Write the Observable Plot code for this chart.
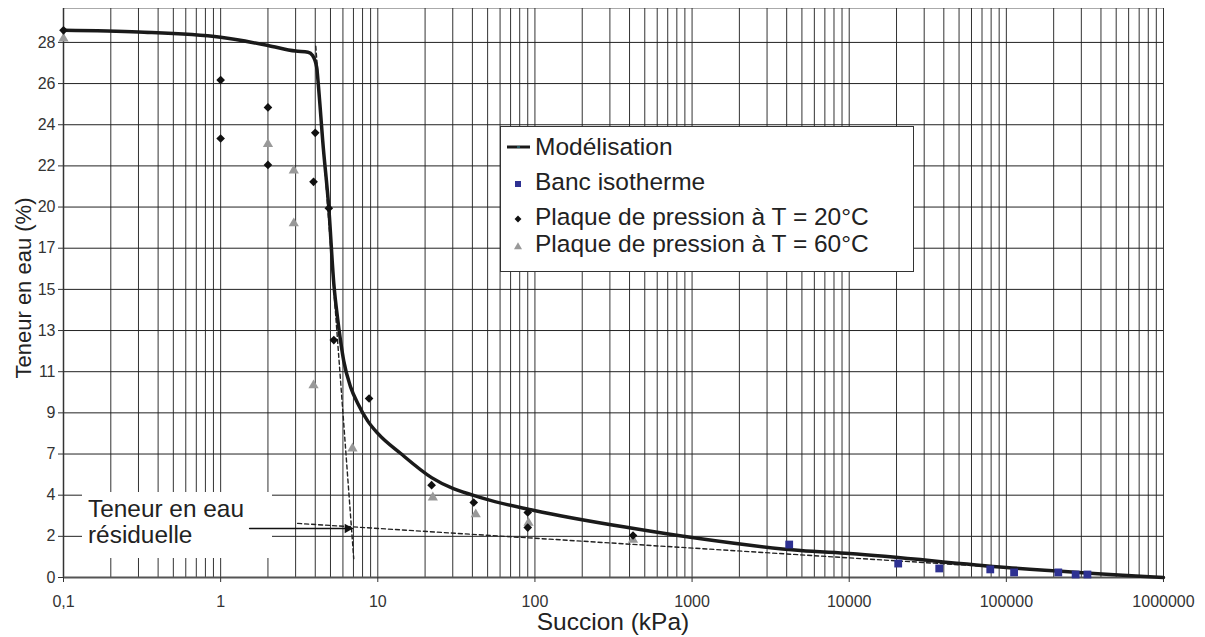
<!DOCTYPE html>
<html><head><meta charset="utf-8">
<script src="https://cdn.jsdelivr.net/npm/d3@7"></script>
<script src="https://cdn.jsdelivr.net/npm/@observablehq/plot@0.6"></script>
<style>
body{margin:0;background:#fff;font-family:"Liberation Sans",Arial,Helvetica,sans-serif;}
#chart{width:1205px;height:637px;}
</style></head><body><div id="chart"></div>
<script>
// ---- data ----
const modelX = [0.1, 0.3, 1, 2, 3, 3.6, 3.85, 4.08, 4.2, 4.33, 4.46, 4.88, 5.25, 5.56, 5.81, 6.07, 6.73, 7.46, 8.64, 10, 14, 22, 47, 99, 427, 1000, 4900, 10000, 100000, 1000000];
const modelY = [29.04, 28.95, 28.67, 28.24, 27.94, 27.88, 27.7, 27.1, 26.0, 24.6, 23.2, 19.6, 15.6, 13.7, 12.5, 11.5, 10.09, 9.24, 8.3, 7.65, 6.58, 5.3, 4.2, 3.56, 2.6, 2.12, 1.43, 1.27, 0.53, 0];

const bancX = [4150, 20500, 37400, 79000, 112000, 214000, 276000, 328000];
const bancY = [1.75, 0.74, 0.48, 0.43, 0.27, 0.27, 0.16, 0.16];

const plate20X = [0.1, 1, 1, 2, 2, 4.0, 3.9, 4.88, 5.25, 8.8, 22, 40.8, 90, 90, 421];
const plate20Y = [29.04, 26.4, 23.3, 24.95, 21.9, 23.6, 21.0, 19.6, 12.6, 9.5, 4.9, 3.98, 3.45, 2.65, 2.23];

const plate60X = [0.1, 2, 2.92, 2.92, 3.9, 6.9, 22.4, 42, 91, 421];
const plate60Y = [28.6, 23.0, 21.6, 18.8, 10.2, 6.85, 4.25, 3.35, 2.9, 2.0];

const tangentX = [4.03, 7.03];
const tangentY = [28.2, 1.0];
const residualX = [3.09, 1000000];
const residualY = [2.87, 0];
const arrowX = [1.53, 6.9];
const arrowY = [2.6, 2.6];

const xTicks = [0.1, 1, 10, 100, 1000, 10000, 100000, 1000000];
const xTickLabels = ["0,1", "1", "10", "100", "1000", "10000", "100000", "1000000"];
const yTicks = d3.range(14).map(i => i * 2.1846);
const yMax = 30.2;

const legendLabels = ["Modélisation", "Banc isotherme", "Plaque de pression à T = 20°C", "Plaque de pression à T = 60°C"];
const annotationLines = ["Teneur en eau", "résiduelle"];
const xTitle = "Succion (kPa)";
const yTitle = "Teneur en eau (%)";

// ---- derived tables ----
const zip = (xs, ys) => xs.map((x, i) => ({x, y: ys[i]}));
const model = zip(modelX, modelY);
const banc = zip(bancX, bancY);
const p20 = zip(plate20X, plate20Y);
const p60 = zip(plate60X, plate60Y);
const tangent = zip(tangentX, tangentY);
const residual = zip(residualX, residualY);
const arrow = zip(arrowX, arrowY);
const xMinor = [];
for (let e = -1; e < 6; e++) for (let k = 1; k <= 9; k++) xMinor.push(k * Math.pow(10, e));
xMinor.push(1000000);

const FONT = '"Liberation Sans", Arial, Helvetica, sans-serif';

// annotation box (custom render mark)
function annotationMark(index, scales, values, dims) {
  const g = d3.create("svg:g").attr("text-anchor", "start");
  g.append("rect").attr("x", 82).attr("y", 492).attr("width", 190).attr("height", 66).attr("fill", "#fff");
  annotationLines.forEach((t, i) => {
    g.append("text").attr("x", 88).attr("y", 517 + i * 26).attr("font-size", 24.4)
      .attr("text-anchor", "start").attr("font-family", FONT).attr("fill", "#222").text(t);
  });
  return g.node();
}

function legendMark(index, scales, values, dims) {
  const g = d3.create("svg:g").attr("text-anchor", "start");
  g.append("rect").attr("x", 500.5).attr("y", 126.5).attr("width", 413).attr("height", 145)
    .attr("fill", "#fff").attr("stroke", "#333").attr("stroke-width", 1);
  const rows = [147, 184, 219, 247];
  const base = [155, 190, 225, 252];
  g.append("line").attr("x1", 507).attr("x2", 530).attr("y1", rows[0]).attr("y2", rows[0])
    .attr("stroke", "#1a1a1a").attr("stroke-width", 3);
  g.append("rect").attr("x", 517).attr("y", rows[0] - 0.5).attr("width", 3).attr("height", 1).attr("fill", "#39a");
  g.append("rect").attr("x", 515).attr("y", rows[1] - 3).attr("width", 6).attr("height", 6).attr("fill", "#2e3192");
  g.append("path").attr("d", d3.symbol(d3.symbolDiamond2, 30)()).attr("transform", `translate(518,${rows[2]})`).attr("fill", "#111");
  g.append("path").attr("d", d3.symbol(d3.symbolTriangle, 28)()).attr("transform", `translate(518,${rows[3]})`).attr("fill", "#999");
  legendLabels.forEach((t, i) => {
    g.append("text").attr("x", 535).attr("y", base[i]).attr("font-size", 24.5)
      .attr("text-anchor", "start").attr("font-family", FONT).attr("fill", "#222").text(t);
  });
  return g.node();
}

const plot = Plot.plot({
  width: 1205, height: 637,
  marginLeft: 63, marginRight: 42, marginTop: 8, marginBottom: 60,
  style: {fontFamily: FONT, fontSize: "16px", color: "#333", background: "#fff"},
  x: {type: "log", domain: [0.1, 1000000]},
  y: {domain: [0, yMax]},
  marks: [
    Plot.frame({stroke: "#aaa"}),
    Plot.ruleX(xMinor, {stroke: "#333", strokeWidth: 1}),
    Plot.ruleY(yTicks, {stroke: "#222", strokeWidth: 1}),
    annotationMark,
    Plot.ruleX([0.1], {stroke: "#333", strokeWidth: 1.5}),
    Plot.ruleY([0], {stroke: "#555", strokeWidth: 2}),
    Plot.axisX(xTicks, {tickFormat: d => xTickLabels[xTicks.indexOf(d)], tickSize: 5, tickPadding: 13, label: null, fontSize: 16, fill: "#333"}),
    Plot.axisY(yTicks, {tickFormat: d => String(Math.round(d)), tickSize: 5, tickPadding: 3, label: null, fontSize: 16, fill: "#333"}),
    Plot.line(residual, {x: "x", y: "y", stroke: "#222", strokeWidth: 1.4, strokeDasharray: "4,3"}),
    Plot.line(tangent, {x: "x", y: "y", stroke: "#222", strokeWidth: 1.4, strokeDasharray: "4,3"}),
    Plot.line(arrow, {x: "x", y: "y", stroke: "#111", strokeWidth: 1.6}),
    Plot.dot(arrow.slice(1), {x: "x", y: "y", symbol: "triangle", rotate: 90, r: 3.6, fill: "#111", stroke: "none", dx: -5}),
    Plot.dot(p60, {x: "x", y: "y", symbol: "triangle", r: 3.8, fill: "#999", stroke: "none"}),
    Plot.line(model, {x: "x", y: "y", curve: "monotone-x", stroke: "#1a1a1a", strokeWidth: 3.5}),
    Plot.dot(p20, {x: "x", y: "y", symbol: "diamond2", r: 3.9, fill: "#111", stroke: "none"}),
    Plot.dot(banc, {x: "x", y: "y", symbol: "square", r: 4.4, fill: "#2e3192", stroke: "none"}),
    legendMark
  ]
});

const svg = d3.select(plot);
svg.append("text").attr("x", 613).attr("y", 630).attr("text-anchor", "middle")
  .attr("font-size", 24.5).attr("font-family", FONT).attr("fill", "#222").text(xTitle);
svg.append("text").attr("transform", "translate(31,288) rotate(-90)").attr("text-anchor", "middle")
  .attr("font-size", 22).attr("font-family", FONT).attr("fill", "#222").text(yTitle);

document.getElementById("chart").appendChild(plot);
</script>
</body></html>
